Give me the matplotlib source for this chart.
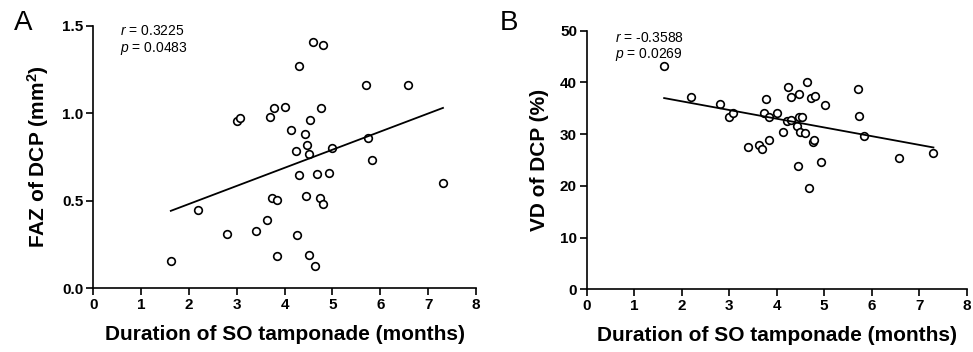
import matplotlib
matplotlib.use("Agg")
import matplotlib.pyplot as plt
import numpy as np

plt.rcParams["font.family"] = ["Liberation Sans", "DejaVu Sans"]
plt.rcParams["mathtext.fontset"] = "custom"
plt.rcParams["mathtext.rm"] = "Liberation Sans"
plt.rcParams["mathtext.it"] = "Liberation Sans:italic"
plt.rcParams["mathtext.bf"] = "Liberation Sans:bold"

# Panel A: FAZ of DCP vs duration of SO tamponade
duration_a = [4.59, 4.80, 4.30, 3.00, 3.07, 3.70, 3.77, 4.01, 4.77, 4.53,
              4.13, 4.43, 4.47, 4.24, 4.50, 4.30, 4.67, 4.92, 3.74, 3.83,
              4.45, 4.73, 4.80, 2.19, 3.63, 2.80, 3.40, 4.26, 1.62, 3.83,
              4.50, 4.63, 5.71, 6.57, 5.00, 5.74, 5.83, 7.31]
faz = [1.406, 1.39, 1.272, 0.954, 0.973, 0.979, 1.030, 1.036, 1.032, 0.962,
       0.903, 0.88, 0.817, 0.785, 0.766, 0.647, 0.653, 0.661, 0.518, 0.505,
       0.526, 0.514, 0.482, 0.446, 0.39, 0.31, 0.329, 0.303, 0.158, 0.183,
       0.189, 0.127, 1.16, 1.163, 0.80, 0.857, 0.733, 0.603]
fit_a = (0.1034, 0.275)  # slope, intercept

# Panel B: VD of DCP vs duration of SO tamponade
duration_b = [1.63, 2.19, 2.80, 3.00, 3.07, 3.40, 3.63, 3.70, 3.83, 3.77,
              3.73, 3.83, 4.00, 4.13, 4.24, 4.30, 4.22, 4.31, 4.47, 4.63,
              4.72, 4.81, 5.01, 5.71, 5.73, 5.83, 6.57, 7.30, 4.48, 4.53,
              4.43, 4.50, 4.60, 4.77, 4.79, 4.45, 4.93, 4.67]
vd = [43.2, 37.2, 35.8, 33.3, 34.1, 27.6, 27.9, 27.1, 28.9, 36.7,
      34.0, 33.4, 34.1, 30.5, 39.1, 37.1, 32.5, 32.8, 37.8, 40.0,
      36.9, 37.4, 35.6, 38.7, 33.5, 29.6, 25.4, 26.3, 33.4, 33.4,
      31.6, 30.5, 30.2, 28.4, 28.9, 23.9, 24.7, 19.6]
fit_b = (-1.684, 39.71)

x_ticks = list(range(0, 9))
yticks_a = [0.0, 0.5, 1.0, 1.5]
yticks_b = [0, 10, 20, 30, 40, 50]

fig = plt.figure(figsize=(9.73, 3.52), dpi=100)
ax_a = fig.add_axes([0.0959, 0.181, 0.3933, 0.7457])
ax_b = fig.add_axes([0.603, 0.178, 0.3905, 0.7350])


def style_axes(ax, yticks, ylabel, yfmt):
    for side in ["top", "right"]:
        ax.spines[side].set_visible(False)
    for side in ["left", "bottom"]:
        ax.spines[side].set_linewidth(1.2)
    ax.set_xlim(0, 8)
    ax.set_ylim(yticks[0], yticks[-1])
    ax.set_xticks(x_ticks)
    ax.set_yticks(yticks)
    ax.set_yticklabels([yfmt.format(v) for v in yticks])
    ax.tick_params(direction="out", length=5, width=1.2, labelsize=11,
                   pad=2)
    for lab in ax.get_xticklabels() + ax.get_yticklabels():
        lab.set_fontweight("bold")
    ax.set_xlabel("Duration of SO tamponade (months)", fontsize=15,
                  fontweight="bold", labelpad=9)
    ax.set_ylabel(ylabel, fontsize=15, fontweight="bold", labelpad=8)


def draw(ax, x, y, fit):
    ax.plot(x, y, "o", mfc="white", mec="black", mew=1.2, ms=5.5,
            linestyle="none", clip_on=False)
    xs = np.array([min(x), max(x)])
    ax.plot(xs, fit[0] * xs + fit[1], color="black", lw=1.3)


draw(ax_a, duration_a, faz, fit_a)
style_axes(ax_a, yticks_a, r"FAZ of DCP (mm$^\mathbf{2}$)", "{:.1f}")
ax_a.text(0.55, 1.47, "$r$ = 0.3225", fontsize=10, va="center")
ax_a.text(0.55, 1.37, "$p$ = 0.0483", fontsize=10, va="center")

draw(ax_b, duration_b, vd, fit_b)
style_axes(ax_b, yticks_b, "VD of DCP (%)", "{:d}")
ax_b.text(0.6, 48.6, "$r$ = -0.3588", fontsize=10, va="center")
ax_b.text(0.6, 45.4, "$p$ = 0.0269", fontsize=10, va="center")

fig.text(0.014, 0.935, "A", fontsize=20, va="center")
fig.text(0.514, 0.935, "B", fontsize=20, va="center")

fig.savefig("out.png", dpi=100)
